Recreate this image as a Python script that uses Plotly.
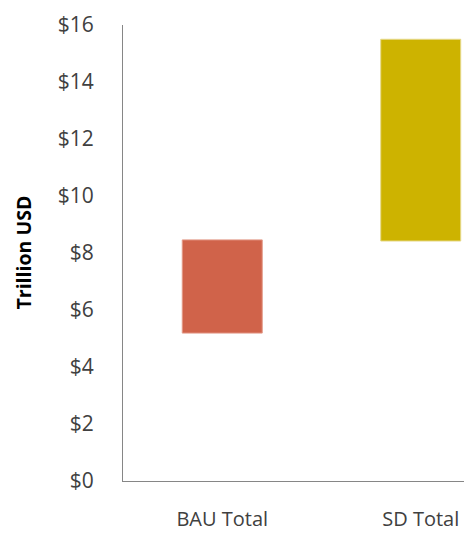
import plotly.graph_objects as go

categories = ["BAU Total", "SD Total"]
bar_bottom = [5.19, 8.42]
bar_top = [8.46, 15.5]
colors = ["#D0634A", "#CDB300"]
y_ticks = [0, 2, 4, 6, 8, 10, 12, 14, 16]
y_tick_labels = ["$" + str(v) for v in y_ticks]

heights = [t - b for t, b in zip(bar_top, bar_bottom)]

fig = go.Figure(go.Bar(
    x=[0, 1], y=heights, base=bar_bottom, width=0.403,
    marker=dict(color=colors, line=dict(color=["#E39A88", "#E6D98A"], width=1)),
))

fig.update_layout(
    width=464, height=533,
    margin=dict(l=123, r=0, t=25, b=52, autoexpand=False),
    paper_bgcolor="white", plot_bgcolor="white",
    showlegend=False,
    font=dict(family="Open Sans, sans-serif", size=21, color="#404040"),
    xaxis=dict(
        range=[-0.5, 1.218], tickvals=[0, 1], ticktext=categories,
        showline=True, linecolor="#868686", linewidth=1,
        showgrid=False, zeroline=False, ticks="", ticklabelstandoff=20,
        automargin=False,
        tickfont=dict(size=20, color="#404040"),
    ),
    yaxis=dict(
        range=[0, 16], tickvals=y_ticks, ticktext=y_tick_labels,
        showline=True, linecolor="#868686", linewidth=1,
        showgrid=False, zeroline=False, ticks="", ticklabelstandoff=24,
        automargin=False,
        tickfont=dict(size=21, color="#404040"),
    ),
    annotations=[dict(
        text="<b>Trillion USD</b>", xref="paper", yref="paper",
        x=0, y=0.5, xshift=-116, textangle=-90, showarrow=False,
        font=dict(size=19.5, color="#000000"),
    )],
)

fig.write_html("out.html")
